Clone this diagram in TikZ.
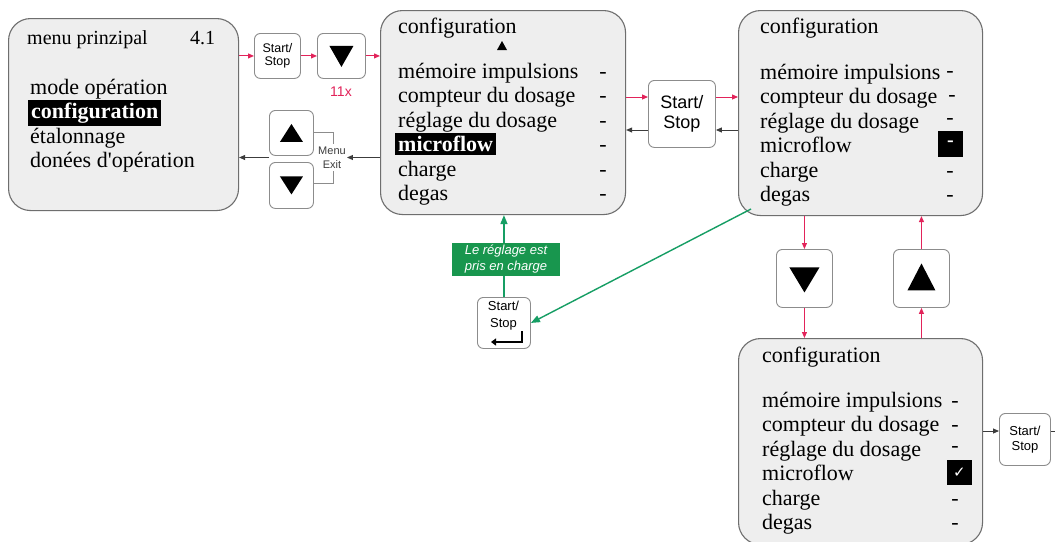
\documentclass[tikz,border=0pt]{standalone}
\usepackage{fontspec}
\setmainfont{Liberation Serif}
\setsansfont{Liberation Sans}
\newfontfamily\dejavu{DejaVu Sans}
\usetikzlibrary{arrows.meta,calc}
\definecolor{arrred}{RGB}{226,35,90}
\definecolor{arrgreen}{RGB}{22,158,100}
\definecolor{lblgreen}{RGB}{24,150,78}
\definecolor{scrfill}{RGB}{238,238,238}
\definecolor{scrline}{RGB}{110,110,110}
\definecolor{btnline}{RGB}{140,140,140}
\definecolor{darkline}{RGB}{60,60,60}
\begin{document}
\begin{tikzpicture}[x=1pt,y=-1pt,
 screen/.style={draw=scrline, fill=scrfill, line width=1.1pt, rounded corners=22pt, anchor=north west, inner sep=0pt},
 btn/.style={draw=btnline, fill=white, line width=0.9pt, rounded corners=6pt, anchor=north west, inner sep=0pt, font=\sffamily, align=center},
 txt/.style={anchor=base west, inner sep=0pt, font=\fontsize{22}{24}\selectfont},
 hl/.style={anchor=base west, fill=black, text=white, font=\bfseries\fontsize{22}{24}\selectfont, inner xsep=3pt, inner ysep=3pt},
 dsh/.style={anchor=base, inner sep=0pt, font=\fontsize{22}{24}\selectfont},
 redarr/.style={draw=arrred, line width=1pt, -{Triangle[length=6pt,width=5pt]}},
 darkarr/.style={draw=darkline, line width=0.9pt, -{Triangle[length=6pt,width=5pt]}},
 greenarr/.style={draw=arrgreen, line width=1.4pt, -{Triangle[length=9pt,width=7pt]}},
 bracket/.style={draw=btnline, line width=0.8pt},
 sq/.style={fill=black, minimum width=25pt, minimum height=26pt, inner sep=0pt, text=white}
]
\useasboundingbox (0,0) rectangle (1055,541);
\fill[white] (0,0) rectangle (1055,541);

% ---------- screen 1 ----------
\node[screen, minimum width=230pt, minimum height=192pt] (s1) at (8,18) {};
\node[txt, font=\fontsize{20}{24}\selectfont] (t1a) at (27,44) {menu prinzipal};
\node[txt, font=\fontsize{20}{24}\selectfont] (t1b) at (190,44) {4.1};
\node[txt] (t1c) at (30,94) {mode opération};
\node[hl] (t1d) at (28,118.5) {configuration};
\node[txt] (t1e) at (30,143) {étalonnage};
\node[txt] (t1f) at (30,167) {donées d\textquotesingle opération};

% ---------- screen 2 ----------
\node[screen, minimum width=245pt, minimum height=204pt] (s2) at (380,10) {};
\node[txt] (t2a) at (398,33) {configuration};
\fill[shift={(502,46)}] (-5,4) -- (5,4) -- (0,-5) -- cycle;
\node[txt] (t2b) at (398,78) {mémoire impulsions};
\node[txt] (t2c) at (398,102.5) {compteur du dosage};
\node[txt] (t2d) at (398,127) {réglage du dosage};
\node[hl] (t2e) at (395,151.5) {microflow};
\node[txt] (t2f) at (398,176) {charge};
\node[txt] (t2g) at (398,200.5) {degas};
\foreach \yy [count=\i] in {78,102.5,127,151.5,176,200.5}
  \node[dsh] (d2-\i) at (603,\yy) {-};

% ---------- screen 3 ----------
\node[screen, minimum width=244pt, minimum height=205pt] (s3) at (738,10) {};
\node[txt] (t3a) at (760,33) {configuration};
\node[txt] (t3b) at (760,79) {mémoire impulsions};
\node[txt] (t3c) at (760,103.5) {compteur du dosage};
\node[txt] (t3d) at (760,128) {réglage du dosage};
\node[txt] (t3e) at (760,152.5) {microflow};
\node[txt] (t3f) at (760,177) {charge};
\node[txt] (t3g) at (760,201.5) {degas};
\node[dsh] (d3-1) at (950,77) {-};
\node[dsh] (d3-2) at (952,101.5) {-};
\node[dsh] (d3-3) at (950,124) {-};
\node[sq, font=\bfseries\fontsize{20}{20}\selectfont] (sq3) at (950.5,143.5) {-};
\node[dsh] (d3-5) at (950,177) {-};
\node[dsh] (d3-6) at (950,201.5) {-};

% ---------- screen 4 ----------
\node[screen, minimum width=244pt, minimum height=206pt] (s4) at (738,338) {};
\node[txt] (t4a) at (762,362) {configuration};
\node[txt] (t4b) at (762,407) {mémoire impulsions};
\node[txt] (t4c) at (762,431.5) {compteur du dosage};
\node[txt] (t4d) at (762,456) {réglage du dosage};
\node[txt] (t4e) at (762,480.5) {microflow};
\node[txt] (t4f) at (762,505) {charge};
\node[txt] (t4g) at (762,529.5) {degas};
\node[dsh] (d4-1) at (955,407) {-};
\node[dsh] (d4-2) at (955,431.5) {-};
\node[dsh] (d4-3) at (955,452) {-};
\node[sq, minimum height=25pt, font=\dejavu\fontsize{15}{15}\selectfont] (sq4) at (959.5,472.5) {✓};
\node[dsh] (d4-5) at (955,505) {-};
\node[dsh] (d4-6) at (955,529.5) {-};

% ---------- buttons ----------
\node[btn, minimum width=46pt, minimum height=45pt, font=\sffamily\fontsize{12.5}{13.5}\selectfont] (ss1) at (254,33) {Start/\\Stop};
\node[btn, minimum width=48pt, minimum height=45pt] (dd1) at (317,33) {};
\fill[shift={(dd1.center)}] (-12,-10) -- (12,-10) -- (0,11) -- cycle;
\node[text=arrred, font=\sffamily\fontsize{14}{14}\selectfont, inner sep=0pt] (n11) at (341,92) {11x};

\node[btn, minimum width=44pt, minimum height=45pt] (u1) at (269,110) {};
\fill[shift={(u1.center)}] (-11.5,9) -- (11.5,9) -- (0,-9) -- cycle;
\node[btn, minimum width=44pt, minimum height=46pt] (dd2) at (269,162) {};
\fill[shift={(dd2.center)}] (-11.5,-9) -- (11.5,-9) -- (0,9) -- cycle;
\node[font=\sffamily\fontsize{11}{14}\selectfont, text=darkline, align=center, inner sep=1pt] (mx) at (332,157.5) {Menu\\Exit};
\draw[bracket] (u1.east |- 0,132) -- (333,132) -- (333,144);
\draw[bracket] (333,171) -- (333,183) -- (dd2.east |- 0,183);

\node[btn, minimum width=67pt, minimum height=67pt, font=\sffamily\fontsize{18}{20}\selectfont] (mid) at (648,80) {Start/\\Stop};

\node[btn, minimum width=53pt, minimum height=51pt] (ent) at (477,297) {};
\node[font=\sffamily\fontsize{13}{17}\selectfont, align=center, inner sep=0pt] (entt) at (503.5,316) {Start/\\Stop};
\draw[line width=2.2pt, -{Triangle[length=5pt,width=7pt]}] (522,331) -- (522,342) -- (491,342);

\node[btn, minimum width=56pt, minimum height=58pt] (dn) at (776,249) {};
\fill[shift={(dn.center)}] (-15,-11) -- (15,-11) -- (0,14) -- cycle;
\node[btn, minimum width=56pt, minimum height=58pt] (up) at (893,249) {};
\fill[shift={(up.center)}] (-14,12) -- (14,12) -- (0,-15) -- cycle;

\node[btn, minimum width=51pt, minimum height=52pt, font=\sffamily\fontsize{13}{15}\selectfont] (rs) at (999,413) {Start/\\Stop};
\coordinate (rout) at (1058,431);

% ---------- connectors ----------
\draw[redarr] (s1.east |- ss1.center) -- (ss1.west);
\draw[redarr] (ss1.east) -- (dd1.west);
\draw[redarr] (dd1.east) -- (s2.west |- dd1.center);

\draw[darkarr] (s2.west |- mx.center) -- (mx.east);
\draw[darkarr] (u1.west |- mx.center) -- (s1.east |- mx.center);

\draw[redarr] (s2.east |- 0,97) -- (mid.west |- 0,97);
\draw[redarr] (mid.east |- 0,97) -- (s3.west |- 0,97);
\draw[darkarr] (s3.west |- 0,130) -- (mid.east |- 0,130);
\draw[darkarr] (mid.west |- 0,130) -- (s2.east |- 0,130);

\draw[redarr] (dn.north |- s3.south) -- (dn.north);
\draw[redarr] (dn.south) -- (dn.south |- s4.north);
\draw[redarr] (up.south |- s4.north) -- (up.south);
\draw[redarr] (up.north) -- (up.north |- s3.south);

\draw[darkarr] (s4.east |- 0,431) -- (rs.west |- 0,431);
\draw[darkline, line width=0.9pt] (rs.east |- 0,431) -- (rout);

\coordinate (g1) at (751,209);
\draw[greenarr] (g1) -- (ent.east);
\draw[greenarr] (ent.north) -- (ent.north |- s2.south);
\node[fill=lblgreen, text=white, font=\sffamily\itshape\fontsize{13}{16}\selectfont, align=center, inner sep=2pt, minimum width=108pt, minimum height=33pt] (lbl) at (506,259.5) {Le réglage est\\pris en charge};
\end{tikzpicture}
\end{document}
